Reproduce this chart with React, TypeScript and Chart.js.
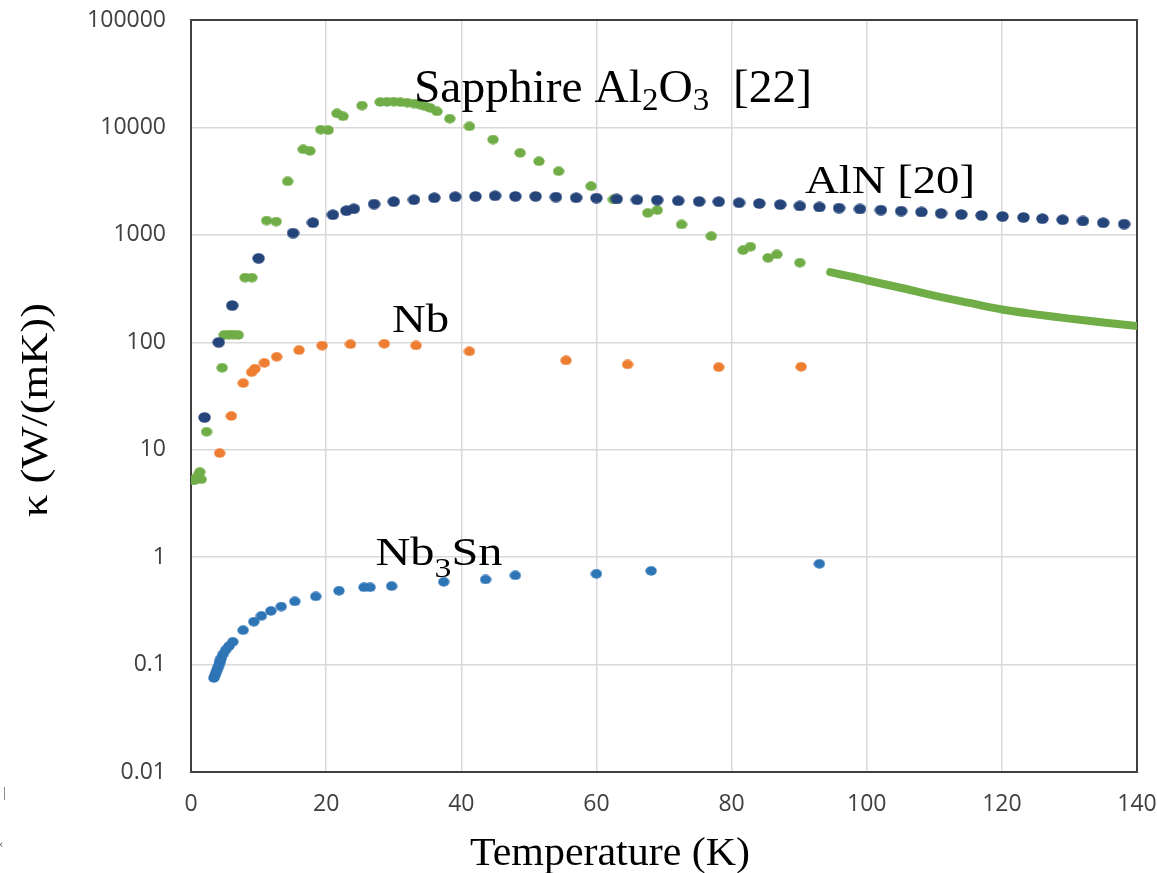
import React, { useEffect, useRef } from "react";
import { Chart, registerables } from "chart.js";

Chart.register(...registerables);

// ---------------- DATA ----------------
const sapphireT = [0.2, 0.5, 0.8, 1.1, 1.3, 1.5, 2.3, 4.6, 4.9, 5.6, 6.3, 7.0, 8.0, 9.0, 11.2, 12.6, 14.3, 16.6, 17.6, 19.2, 20.3, 21.6, 22.5, 25.3, 28.0, 29.0, 30.0, 31.0, 32.0, 33.0, 33.9, 34.7, 35.4, 36.4, 38.3, 41.2, 44.7, 48.7, 51.5, 54.4, 59.2, 62.5, 67.6, 69.0, 72.6, 77.0, 81.7, 82.8, 85.4, 86.7, 90.1];
const sapphireK = [5.2, 5.2, 5.4, 5.8, 6.2, 5.3, 14.7, 58, 117, 118, 118, 117, 400, 400, 1360, 1330, 3150, 6250, 6050, 9550, 9450, 13500, 12700, 16000, 17250, 17300, 17400, 17200, 17000, 16700, 16300, 15700, 15200, 14100, 12080, 10230, 7710, 5800, 4840, 3910, 2840, 2135, 1600, 1700, 1250, 973, 720, 776, 610, 658, 551];

const sapphireTailT = [94.6, 96, 98, 100, 105, 110, 115, 120, 125, 130, 135, 140];
const sapphireTailK = [450, 430, 405, 378, 322, 272, 234, 202, 182, 166, 153, 142];

const alnT = [2.0, 4.1, 6.1, 10.0, 15.1, 18.05, 21.0, 23.0, 24.1, 27.1, 30.0, 33.0, 36.0, 39.1, 42.1, 45.0, 48.0, 51.0, 54.0, 57.0, 60.0, 63.0, 66.0, 69.0, 72.1, 75.2, 78.1, 81.1, 84.1, 87.2, 90.1, 93.0, 95.9, 99.0, 102.1, 105.1, 108.1, 111.0, 114.0, 117.0, 120.1, 123.2, 126.0, 129.0, 132.0, 135.0, 138.1];
const alnK = [20, 100, 220, 605, 1040, 1300, 1540, 1680, 1750, 1935, 2040, 2125, 2218, 2266, 2282, 2313, 2282, 2282, 2250, 2218, 2203, 2157, 2125, 2110, 2080, 2047, 2037, 1991, 1960, 1915, 1857, 1817, 1778, 1741, 1703, 1667, 1633, 1585, 1551, 1518, 1486, 1454, 1415, 1384, 1346, 1298, 1262];

const nbT = [4.24, 5.97, 7.74, 8.98, 9.47, 10.85, 12.68, 16.0, 19.4, 23.6, 28.6, 33.3, 41.2, 55.5, 64.6, 78.1, 90.3];
const nbK = [9.3, 20.6, 41.7, 52.7, 56.8, 64.4, 73.3, 84.5, 93.3, 96, 97, 93.4, 82.3, 67.8, 62.2, 58.7, 59.2];

const nb3snT = [3.38, 3.52, 3.66, 3.8, 3.94, 4.08, 4.22, 4.36, 4.5, 4.79, 5.18, 5.63, 6.19, 7.72, 9.29, 10.42, 11.83, 13.35, 15.37, 18.47, 21.9, 25.6, 26.5, 29.7, 37.4, 43.6, 48.0, 60.0, 68.1, 93.0];
const nb3snK = [0.075, 0.079, 0.0835, 0.088, 0.093, 0.098, 0.104, 0.11, 0.1155, 0.126, 0.138, 0.149, 0.163, 0.209, 0.251, 0.284, 0.316, 0.347, 0.387, 0.431, 0.487, 0.524, 0.524, 0.538, 0.59, 0.62, 0.676, 0.70, 0.746, 0.867];

const xMin = 0;
const xMax = 140;
const xStep = 20;
const yTickValues = [0.01, 0.1, 1, 10, 100, 1000, 10000, 100000];
const yTickLabels = ["0.01", "0.1", "1", "10", "100", "1000", "10000", "100000"];

const xTitle = "Temperature (K)";
const yTitle = "\u03BA (W/(mK))";

// ---------------- helpers ----------------
const SERIF = '"Liberation Serif", "Times New Roman", serif';
const SANS = '"Open Sans", "Liberation Sans", sans-serif';

function pts(t: number[], k: number[]) {
  return t.map((x, i) => ({ x, y: k[i] }));
}

function ellipse(color: string, w: number, h: number) {
  const c = document.createElement("canvas");
  c.width = w;
  c.height = h;
  const g = c.getContext("2d")!;
  g.fillStyle = color;
  g.beginPath();
  g.ellipse(w / 2, h / 2, w / 2 - 0.3, h / 2 - 0.3, 0, 0, Math.PI * 2);
  g.fill();
  return c;
}

type Part = { text: string; size: number; dy: number };

function drawRich(ctx: CanvasRenderingContext2D, parts: Part[], x: number, y: number, target: number, align: "left" | "center" = "left") {
  let w = 0;
  for (const p of parts) {
    ctx.font = `${p.size}px ${SERIF}`;
    w += ctx.measureText(p.text).width;
  }
  const sx = target / w;
  ctx.save();
  ctx.translate(x, y);
  ctx.scale(sx, 1);
  ctx.textAlign = "left";
  ctx.textBaseline = "alphabetic";
  ctx.fillStyle = "#000";
  let cx = align === "center" ? -w / 2 : 0;
  for (const p of parts) {
    ctx.font = `${p.size}px ${SERIF}`;
    ctx.fillText(p.text, cx, p.dy);
    cx += ctx.measureText(p.text).width;
  }
  ctx.restore();
}

const annotationPlugin = {
  id: "annotations",
  beforeDatasetsDraw(chart: any) {
    const { ctx, chartArea } = chart;
    ctx.save();
    ctx.strokeStyle = "#404040";
    ctx.lineWidth = 2;
    ctx.strokeRect(chartArea.left, chartArea.top, chartArea.right - chartArea.left, chartArea.bottom - chartArea.top);
    ctx.restore();
  },
  afterDraw(chart: any) {
    const { ctx } = chart;
    const xs = chart.scales.x;
    const ys = chart.scales.y;
    const px = (v: number) => xs.getPixelForValue(v);
    const py = (v: number) => ys.getPixelForValue(v);

    drawRich(ctx, [
      { text: "Sapphire Al", size: 46, dy: 0 },
      { text: "2", size: 32, dy: 8 },
      { text: "O", size: 46, dy: 0 },
      { text: "3", size: 32, dy: 8 },
      { text: "  [22]", size: 46, dy: 0 },
    ], px(33.0), py(17375), 398);

    drawRich(ctx, [{ text: "AlN [20]", size: 40, dy: 0 }], px(90.87), py(2477), 170);
    drawRich(ctx, [{ text: "Nb", size: 40, dy: 0 }], px(29.75), py(126), 57);
    drawRich(ctx, [
      { text: "Nb", size: 40, dy: 0 },
      { text: "3", size: 28, dy: 12 },
      { text: "Sn", size: 40, dy: 0 },
    ], px(27.3), py(0.837), 127);

    // axis titles
    drawRich(ctx, [{ text: xTitle, size: 40, dy: 0 }], 470, 865, 280);
    ctx.save();
    ctx.translate(47, 410);
    ctx.rotate(-Math.PI / 2);
    drawRich(ctx, [{ text: yTitle, size: 38, dy: 0 }], 0, 0, 214, "center");
    ctx.restore();

    // small cropped marks at the left edge
    ctx.save();
    ctx.fillStyle = "#666";
    ctx.font = `15px ${SERIF}`;
    ctx.fillText("|", 3, 797);
    ctx.font = `13px ${SERIF}`;
    ctx.fillText("\u2039", -1, 847);
    ctx.restore();
  },
};

export default function App() {
  const ref = useRef<HTMLCanvasElement | null>(null);

  useEffect(() => {
    document.body.style.margin = "0";
    const canvas = ref.current!;
    const green = "#70AD47";
    const navy = "#25447A";
    const orange = "#ED7D31";
    const blue = "#2E75B6";

    const chart = new Chart(canvas, {
      type: "scatter",
      data: {
        datasets: [
          {
            label: "AlN [20]",
            data: pts(alnT, alnK),
            pointStyle: ellipse(navy, 13, 11) as any,
            pointRadius: 5,
            backgroundColor: navy,
            borderColor: navy,
            order: 0,
          },
          {
            label: "Sapphire Al2O3 [22]",
            data: pts(sapphireT, sapphireK),
            pointStyle: ellipse(green, 12, 10) as any,
            pointRadius: 5,
            backgroundColor: green,
            borderColor: green,
            order: 1,
          },
          {
            label: "Sapphire tail",
            data: pts(sapphireTailT, sapphireTailK),
            showLine: true,
            borderColor: green,
            backgroundColor: green,
            borderWidth: 8,
            borderCapStyle: "round",
            pointRadius: 0,
            tension: 0.3,
            order: 1,
          },
          {
            label: "Nb",
            data: pts(nbT, nbK),
            pointStyle: ellipse(orange, 12, 10) as any,
            pointRadius: 5,
            backgroundColor: orange,
            borderColor: orange,
            order: 2,
          },
          {
            label: "Nb3Sn",
            data: pts(nb3snT, nb3snK),
            pointStyle: ellipse(blue, 12, 10) as any,
            pointRadius: 5,
            backgroundColor: blue,
            borderColor: blue,
            order: 3,
          },
        ],
      },
      options: {
        responsive: false,
        animation: false,
        devicePixelRatio: 1,
        layout: { padding: { left: 0, right: 20, top: 20, bottom: 0 } },
        plugins: {
          legend: { display: false },
          tooltip: { enabled: false },
        },
        scales: {
          x: {
            type: "linear",
            min: xMin,
            max: xMax,
            ticks: {
              stepSize: xStep,
              font: { family: SANS, size: 23 },
              color: "#404040",
              padding: 19,
              maxRotation: 0,
            },
            grid: { color: "#d9d9d9", lineWidth: 1.5, drawTicks: false },
            border: { display: true, color: "#404040", width: 2 },
            afterFit: (scale: any) => {
              scale.height = 101;
              scale.paddingLeft = 0;
              scale.paddingRight = 0;
            },
          },
          y: {
            type: "logarithmic",
            min: yTickValues[0],
            max: yTickValues[yTickValues.length - 1],
            afterBuildTicks: (scale: any) => {
              scale.ticks = yTickValues.map((v) => ({ value: v }));
            },
            ticks: {
              font: { family: SANS, size: 23 },
              color: "#404040",
              padding: 25,
              callback: (_v: any, i: number) => yTickLabels[i],
            },
            grid: { color: "#d9d9d9", lineWidth: 1.5, drawTicks: false },
            border: { display: true, color: "#404040", width: 2 },
            afterFit: (scale: any) => {
              scale.width = 191;
              scale.paddingTop = 0;
              scale.paddingBottom = 0;
            },
          },
        },
      },
      plugins: [annotationPlugin],
    } as any);

    return () => chart.destroy();
  }, []);

  return (
    <div style={{ width: 1157, height: 873, background: "#fff" }}>
      <canvas ref={ref} width={1157} height={873} style={{ display: "block", width: 1157, height: 873 }} />
    </div>
  );
}
